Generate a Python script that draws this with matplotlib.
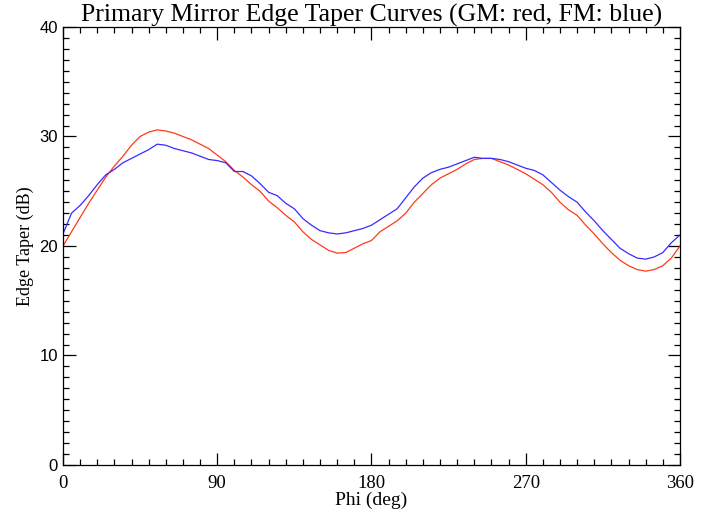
import matplotlib.pyplot as plt
from matplotlib.ticker import MultipleLocator

# Edge taper vs azimuth, sampled every 5 degrees
phi = list(range(0, 361, 5))
taper_gm = [20.0, 21.3, 22.6, 23.9, 25.1, 26.3, 27.3, 28.2, 29.2, 30.0,
            30.4, 30.6, 30.5, 30.3, 30.0, 29.7, 29.3, 28.9, 28.3, 27.7,
            26.9, 26.3, 25.6, 25.0, 24.1, 23.5, 22.8, 22.2, 21.3, 20.6,
            20.1, 19.6, 19.35, 19.4, 19.8, 20.2, 20.5, 21.3, 21.8, 22.3,
            23.0, 24.0, 24.8, 25.6, 26.2, 26.6, 27.0, 27.5, 27.9, 28.0,
            28.0, 27.7, 27.4, 27.0, 26.6, 26.1, 25.6, 24.9, 24.0, 23.3,
            22.8, 21.9, 21.1, 20.2, 19.4, 18.7, 18.2, 17.85, 17.7, 17.85,
            18.2, 18.9, 20.0]
taper_fm = [21.1, 23.0, 23.7, 24.6, 25.6, 26.5, 27.0, 27.6, 28.0, 28.4,
            28.8, 29.3, 29.2, 28.9, 28.7, 28.5, 28.2, 27.9, 27.8, 27.6,
            26.8, 26.8, 26.4, 25.7, 24.9, 24.6, 23.9, 23.4, 22.5, 21.9,
            21.4, 21.2, 21.1, 21.2, 21.4, 21.6, 21.9, 22.4, 22.9, 23.4,
            24.4, 25.4, 26.2, 26.7, 27.0, 27.2, 27.5, 27.8, 28.1, 28.0,
            28.0, 27.9, 27.7, 27.4, 27.1, 26.9, 26.5, 25.8, 25.1, 24.5,
            24.0, 23.1, 22.3, 21.4, 20.6, 19.8, 19.3, 18.9, 18.8, 19.0,
            19.4, 20.3, 21.0]

serif = 'Liberation Serif'

fig = plt.figure(figsize=(7.18, 5.15), dpi=100)
ax = fig.add_axes([0.0877, 0.0971, 0.8593, 0.8505])

ax.plot(phi, taper_gm, color='#ff3a1a', lw=0.9)
ax.plot(phi, taper_fm, color='#3a2aff', lw=0.9)

ax.set_xlim(0, 360)
ax.set_ylim(0, 40)
ax.xaxis.set_major_locator(MultipleLocator(90))
ax.xaxis.set_minor_locator(MultipleLocator(10))
ax.yaxis.set_major_locator(MultipleLocator(10))
ax.yaxis.set_minor_locator(MultipleLocator(1))
ax.tick_params(which='both', direction='in', top=True, right=True, width=0.9)
ax.tick_params(which='major', length=9)
ax.tick_params(which='minor', length=4.5)
ax.tick_params(axis='x', pad=7)
for lab in ax.get_xticklabels():
    lab.set_fontfamily(serif)
    lab.set_fontsize(13.5)
for lab in ax.get_yticklabels():
    lab.set_fontfamily('Liberation Sans')
    lab.set_fontsize(12)
for sp in ax.spines.values():
    sp.set_linewidth(0.9)

ax.set_xlabel('Phi (deg)', fontfamily=serif, fontsize=14, labelpad=0)
ax.set_ylabel('Edge Taper (dB)', fontfamily=serif, fontsize=13, labelpad=4)
ax.set_title('Primary Mirror Edge Taper Curves (GM: red, FM: blue)',
             fontfamily=serif, fontsize=18.5, pad=4)

fig.savefig('out.png', dpi=100)
